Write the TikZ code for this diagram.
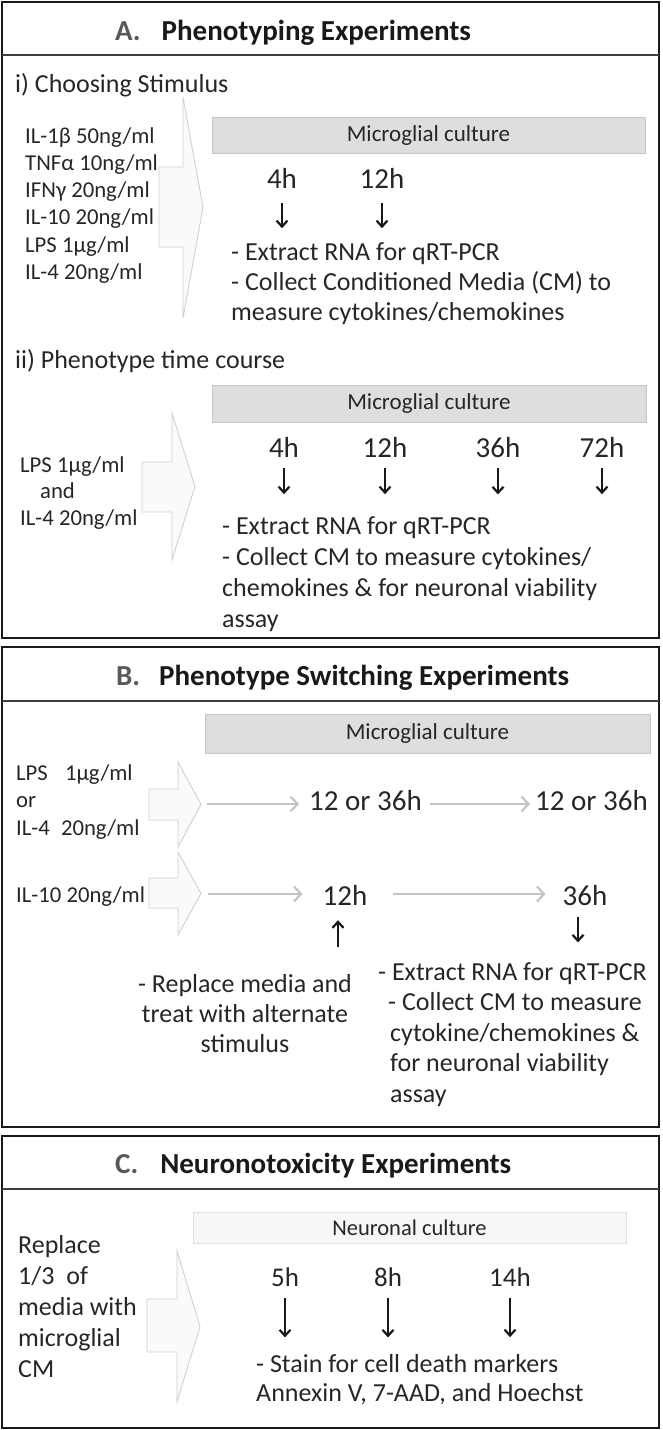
\documentclass[tikz,border=0pt]{standalone}
\usepackage{fontspec}
\setmainfont{Carlito}
\usepackage{xcolor}
\usetikzlibrary{arrows.meta,calc,positioning}

\definecolor{inkgray}{HTML}{262626}
\definecolor{labelgray}{HTML}{595959}
\definecolor{culturegray}{HTML}{DEDEDE}
\definecolor{cultureedge}{HTML}{C4C4C4}
\definecolor{arrowedge}{HTML}{D0D0D0}
\definecolor{arrowfill}{HTML}{FAFAFA}
\definecolor{flowgray}{HTML}{C4C4C4}

\tikzset{
  panel/.style={draw=black!90, line width=1.4pt},
  titlerule/.style={draw=black!75, line width=1.1pt},
  culture/.style={draw=cultureedge, fill=culturegray, line width=0.9pt, inner sep=0pt, text=inkgray, font=\fontsize{23}{27}\selectfont},
  hollow/.style={draw=arrowedge, fill=arrowfill, line width=0.9pt},
  txt/.style={inner sep=0pt, anchor=base west, text=inkgray, font=\fontsize{26}{30}\selectfont},
  stimtext/.style={txt, font=\fontsize{22.7}{27.3}\selectfont},
  hour/.style={inner sep=0pt, anchor=base, text=inkgray, font=\fontsize{29}{34}\selectfont},
  heading/.style={inner sep=0pt, anchor=base west, text=black!90, font=\fontsize{29}{34}\selectfont\bfseries},
  timearrow/.style={-{Straight Barb[length=6pt,width=11pt]}, line width=2.2pt, black!90},
  flowarrow/.style={-{Straight Barb[length=7pt,width=15pt]}, line width=2.2pt, flowgray},
}

\begin{document}
\begin{tikzpicture}[x=1pt,y=-1pt]
\useasboundingbox (0,0) rectangle (662,1430);

% A. phenotyping
% (multi-line nodes sit on the baseline of their last line)
\draw[panel] (2,2) rectangle (659,638);
\draw[titlerule] (2,55) -- (659,55);
\node[heading] (titleA) at (115,40) {\textcolor{labelgray}{A.}\hspace{21pt}Phenotyping Experiments};

\node[txt] (choose) at (15,92) {i) Choosing Stimulus};
\foreach \s [count=\i] in {IL-1β 50ng/ml, TNFα 10ng/ml, IFNγ 20ng/ml, IL-10 20ng/ml, LPS 1µg/ml, IL-4 20ng/ml}
  \node[stimtext] (stimA\i) at (25,{115.7+27.3*\i}) {\s};
\draw[hollow] (159,167) -- (183,167) -- (183,97) -- (203,207.5) -- (183,318) -- (183,247) -- (159,247) -- cycle;
\node[culture, minimum width=433pt, minimum height=36pt] (cultA1) at (428.5,135) {Microglial culture};
\node[hour] (a4) at (282,188) {4h};
\node[hour] (a12) at (382,188) {12h};
\draw[timearrow] ([yshift=-15pt]a4.south) -- ++(0,25);
\draw[timearrow] ([yshift=-15pt]a12.south) -- ++(0,25);
\node[txt, align=left] (collectA1) at (231,320) {- Extract RNA for qRT-PCR\\- Collect Conditioned Media (CM) to\\measure cytokines/chemokines};

\node[txt] (course) at (15,368) {ii) Phenotype time course};
\node[culture, minimum width=434pt, minimum height=37pt] (cultA2) at (429,403.5) {Microglial culture};
\draw[hollow] (142,462) -- (172,462) -- (172,413) -- (195,486.5) -- (172,560) -- (172,512) -- (142,512) -- cycle;
\node[stimtext, align=left, font=\fontsize{22.7}{26.5}\selectfont] (stimA7) at (20,525) {LPS 1µg/ml\\\hspace*{20pt}and\\IL-4 20ng/ml};
\foreach \t/\x/\n in {4h/284/b4, 12h/385/b12, 36h/498/b36, 72h/602/b72} {
  \node[hour] (\n) at (\x,457) {\t};
  \draw[timearrow] ([yshift=-11pt]\n.south) -- ++(0,26);
}
\node[txt, align=left, font=\fontsize{26}{30.7}\selectfont] (collectA2) at (222,627) {- Extract RNA for qRT-PCR\\- Collect CM to measure cytokines/\\chemokines \& for neuronal viability\\assay};

% B. switching
\draw[panel] (2,647) rectangle (659,1127);
\draw[titlerule] (2,701) -- (659,701);
\node[heading] (titleB) at (116,685) {\textcolor{labelgray}{B.}\hspace{19pt}Phenotype Switching Experiments};
\node[culture, minimum width=445pt, minimum height=39pt] (cultB) at (427.5,733.5) {Microglial culture};
\draw[hollow] (149,789) -- (178,789) -- (178,762) -- (201,804.5) -- (178,847) -- (178,820) -- (149,820) -- cycle;
\coordinate (tipB1) at (201,804);
\draw[hollow] (149,878) -- (178,878) -- (178,852) -- (201,893.5) -- (178,935) -- (178,908) -- (149,908) -- cycle;
\coordinate (tipB2) at (201,894);
\node[stimtext, align=left] (stimB1) at (16,835) {LPS\hspace{12pt} 1µg/ml\\or\\IL-4\hspace{6pt} 20ng/ml};
\node[stimtext] (stimB2) at (16,902) {IL-10 20ng/ml};
\node[hour, anchor=base west] (r1a) at (309,810) {12 or 36h};
\node[hour, anchor=base west] (r1b) at (535,810) {12 or 36h};
\node[hour] (r2a) at (345,905) {12h};
\node[hour] (r2b) at (585,905) {36h};
\draw[flowarrow, shorten <=6pt, shorten >=10pt] (tipB1) -- (tipB1 -| r1a.west);
\draw[flowarrow, shorten <=8pt, shorten >=5pt] (tipB1 -| r1a.east) -- (tipB1 -| r1b.west);
\draw[flowarrow, shorten <=7pt, shorten >=20pt] (tipB2) -- (tipB2 -| r2a.west);
\draw[flowarrow, shorten <=25pt, shorten >=17pt] (tipB2 -| r2a.east) -- (tipB2 -| r2b.west);
\draw[timearrow] ([xshift=-7pt,yshift=-42pt]r2a.south) -- ++(0,-27);
\draw[timearrow] ([xshift=-7pt,yshift=-12pt]r2b.south) -- ++(0,25);
\node[txt, align=center, anchor=base] (replace) at (245,1052) {- Replace media and\\treat with alternate\\stimulus};
\node[txt, align=left, font=\fontsize{26}{30.5}\selectfont] (collectB) at (390,1102) {\hspace*{-12pt}- Extract RNA for qRT-PCR\\\hspace*{-2pt}- Collect CM to measure\\cytokine/chemokines \&\\for neuronal viability\\assay};

% C. neurotoxicity
\draw[panel] (2,1136) rectangle (659,1428);
\draw[titlerule] (2,1189) -- (659,1189);
\node[heading] (titleC) at (115,1173) {\textcolor{labelgray}{C.}\hspace{22pt}Neuronotoxicity Experiments};
\node[culture, draw=black!12, fill=black!3, minimum width=433pt, minimum height=31pt, font=\fontsize{22.5}{27}\selectfont] (cultC) at (409.5,1227.5) {Neuronal culture};
\node[txt, align=left, font=\fontsize{26}{31}\selectfont] (replaceC) at (18,1377) {Replace\\1/3~ of\\media with\\microglial\\CM};
\draw[hollow] (147,1299) -- (177,1299) -- (177,1251) -- (200,1326.5) -- (177,1402) -- (177,1352) -- (147,1352) -- cycle;
\foreach \t/\x/\n in {5h/285/c5, 8h/388/c8, 14h/510/c14} {
  \node[hour, font=\fontsize{27}{32}\selectfont] (\n) at (\x,1286) {\t};
  \draw[timearrow] ([yshift=-12pt]\n.south) -- ++(0,39);
}
\node[txt, align=left, font=\fontsize{26}{29}\selectfont] (stainC) at (256,1401) {- Stain for cell death markers\\Annexin V, 7-AAD, and Hoechst};
\end{tikzpicture}
\end{document}
